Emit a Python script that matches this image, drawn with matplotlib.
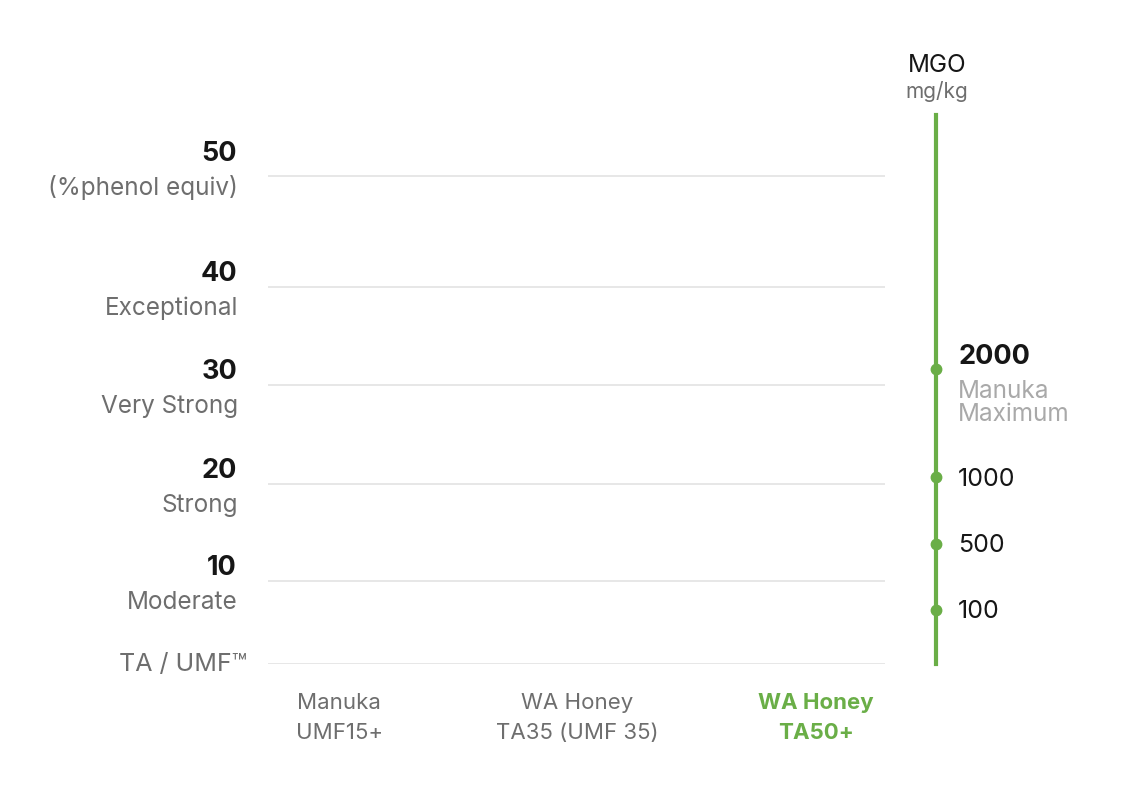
import numpy as np
import matplotlib
matplotlib.use('Agg')
import matplotlib.pyplot as plt
from matplotlib import font_manager

# data
umf_levels = [0, 10, 20, 30, 40, 50]
umf_numbers = ['', '10', '20', '30', '40', '50']
umf_names = ['TA / UMF\u2122', 'Moderate', 'Strong', 'Very Strong', 'Exceptional', '(%phenol equiv)']
products = ['Manuka\nUMF15+', 'WA Honey\nTA35 (UMF 35)', 'WA Honey\nTA50+']
mgo_levels = [100, 500, 1000, 2000]
mgo_notes = ['', '', '', 'Manuka\nMaximum']

GREEN = '#6aae47'
DARK = '#161616'
GREY = '#6e6e6e'
LIGHT = '#a9a9a9'
GRID = '#e3e3e3'

names = {f.name for f in font_manager.fontManager.ttflist}
main_font = 'Inter' if 'Inter' in names else 'DejaVu Sans'
plt.rcParams['font.family'] = [main_font, 'DejaVu Sans']

W, H = 1128, 802
fig = plt.figure(figsize=(W / 100, H / 100), dpi=100)

# axes geometry in pixels
ax_left, ax_right, ax_top, ax_bot = 268, 885, 115, 664
bottom = (H - ax_bot) / H
height = (ax_bot - ax_top) / H
ax = fig.add_axes([ax_left / W, bottom, (ax_right - ax_left) / W, height])

# rows are not evenly spaced in the original, so use a piecewise scale
umf_knots = [0, 10, 20, 30, 40, 50, 60]
umf_px = [0, 83, 180, 279, 377, 488, 599]
ax.set_yscale('function', functions=(lambda v: np.interp(v, umf_knots, umf_px),
                                     lambda p: np.interp(p, umf_px, umf_knots)))
ax.set_ylim(0, 55.5)
ax.set_xlim(-0.298, 2.289)

for lv in umf_levels:
    ax.axhline(lv, color=GRID, lw=1.2, zorder=0)

for s in ax.spines.values():
    s.set_visible(False)
ax.set_yticks([])
ax.set_xticks(range(len(products)))
ax.set_xticklabels(products, fontsize=16, linespacing=1.62)
ax.tick_params(axis='x', length=0, pad=21, colors=GREY)
ax.get_xticklabels()[-1].set_color(GREEN)
ax.get_xticklabels()[-1].set_fontweight('bold')

top = max(umf_levels)
for lv, num, nm in zip(umf_levels, umf_numbers, umf_names):
    up, down = (22, -11) if lv == top else (13, -21)
    if num:
        ax.annotate(num, xy=(0, lv), xycoords=('axes fraction', 'data'),
                    xytext=(-31, up), textcoords='offset pixels',
                    ha='right', va='center', fontsize=19.5, fontweight='bold', color=DARK)
        ax.annotate(nm, xy=(0, lv), xycoords=('axes fraction', 'data'),
                    xytext=(-30, down), textcoords='offset pixels',
                    ha='right', va='center', fontsize=17.5, color=GREY)
    else:
        ax.annotate(nm, xy=(0, lv), xycoords=('axes fraction', 'data'),
                    xytext=(-21, 0), textcoords='offset pixels',
                    ha='right', va='center', fontsize=18, color=GREY)

# MGO scale on the right
mgo_knots = [0, 100, 500, 1000, 2000, 5000]
mgo_px = [0, 54, 120, 187, 295, 549]
ax2 = fig.add_axes([936 / W, bottom, 0.0005, height])
ax2.set_yscale('function', functions=(lambda v: np.interp(v, mgo_knots, mgo_px),
                                      lambda p: np.interp(p, mgo_px, mgo_knots)))
ax2.set_ylim(0, 5000)
ax2.set_xlim(0, 1)
ax2.patch.set_visible(False)
for k, s in ax2.spines.items():
    s.set_visible(k == 'left')
ax2.spines['left'].set_color(GREEN)
ax2.spines['left'].set_linewidth(3)
ax2.set_xticks([])
ax2.set_yticks([])
ax2.plot([0] * len(mgo_levels), mgo_levels, 'o', color=GREEN, ms=7.5, clip_on=False, zorder=5)

for v, note in zip(mgo_levels, mgo_notes):
    if note:
        ax2.annotate(str(v), xy=(0, v), xycoords=('axes fraction', 'data'),
                     xytext=(22, 12), textcoords='offset pixels',
                     ha='left', va='center', fontsize=19.5, fontweight='bold', color=DARK)
        ax2.annotate(note, xy=(0, v), xycoords=('axes fraction', 'data'),
                     xytext=(22, -34), textcoords='offset pixels', linespacing=0.95,
                     ha='left', va='center', fontsize=17.5, color=LIGHT)
    else:
        ax2.annotate(str(v), xy=(0, v), xycoords=('axes fraction', 'data'),
                     xytext=(22, -2), textcoords='offset pixels',
                     ha='left', va='center', fontsize=18, color=DARK)

fig.text(937 / W, 1 - 65 / H, 'MGO', ha='center', va='center', fontsize=17.5, color=DARK)
fig.text(937 / W, 1 - 92 / H, 'mg/kg', ha='center', va='center', fontsize=15, color=GREY)

fig.savefig('out.png', dpi=100)
